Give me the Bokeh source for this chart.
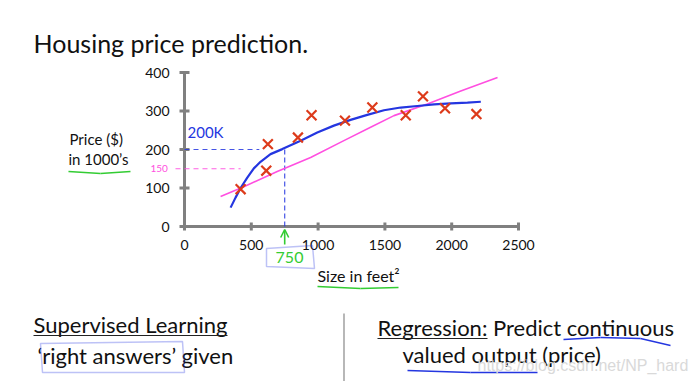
import math
from bokeh.plotting import figure
from bokeh.models import Range1d, Label, Arrow, OpenHead, PolyAnnotation
from bokeh.core.properties import value
from bokeh.embed import file_html
from bokeh.resources import INLINE

# ---- data ----
size_sqft = [420, 624, 612, 849, 951, 1201, 1406, 1656, 1785, 1950, 2185]
price_k = [97, 214, 145, 231, 289, 275, 309, 289, 338, 307, 292]

curve_x = [345, 382, 420, 470, 519, 569, 644, 732, 869, 994, 1118, 1243, 1368, 1493, 1618, 1743, 1868, 1993, 2118, 2218]
curve_y = [49, 75, 100, 127, 151, 168, 188, 201, 223, 244, 262, 277, 290, 302, 309, 313, 317, 320, 322, 324]

line_x = [270, 444, 694, 944, 1193, 1393, 1568, 1818, 2068, 2343]
line_y = [78, 103, 143, 179, 223, 258, 288, 318, 352, 387]

x_ticks = [0, 500, 1000, 1500, 2000, 2500]
y_ticks = [0, 100, 200, 300, 400]
x_tick_labels = ["0", "500", "1000", "1500", "2000", "2500"]
y_tick_labels = ["0", "100", "200", "300", "400"]

query_size = 750
pred_curve = 200
pred_line = 150

TITLE = "Housing price prediction."
FONT = "Lato"

# ---- the whole slide is one frame; the axes box sits inside it ----
W, H = 693, 381
AX_L, AX_R, AX_T, AX_B = 184, 518, 72, 226   # slide pixels of the axes box
XMAX, YMAX = 2500, 400
sx = XMAX / (AX_R - AX_L)
sy = YMAX / (AX_B - AX_T)
p = figure(width=W, height=H,
           x_range=Range1d(-AX_L * sx, XMAX + (W - AX_R) * sx),
           y_range=Range1d(-(H - AX_B) * sy, YMAX + AX_T * sy),
           x_axis_location=None, y_axis_location=None,
           output_backend="svg", toolbar_location=None, min_border=0)
p.outline_line_color = None
p.grid.visible = False
p.background_fill_color = "white"
p.border_fill_color = "white"

def X(px):
    return (px - AX_L) * sx

def Y(py):
    return (AX_B - py) * sy

AX = "#808080"
BLUE = "#2436e0"
PINK = "#ff4fe0"
GREEN = "#33cc33"
RED = "#dd3b1b"
INK = "#111111"

# axes (lines, cross ticks, tick labels) drawn at data positions
p.segment(x0=[0, 0], y0=[0, 0], x1=[XMAX, 0], y1=[0, YMAX], line_color=AX, line_width=3)
p.scatter(x_ticks, [0] * len(x_ticks), marker="dash", angle=math.pi / 2, size=8,
          line_color=AX, line_width=3)
p.scatter([0] * len(y_ticks), y_ticks, marker="dash", size=10, line_color=AX, line_width=3)
p.text(x_ticks, [0] * len(x_ticks), text=x_tick_labels, y_offset=13, text_align="center",
       text_baseline="top", text_font=value(FONT), text_font_size="14px", text_color=INK)
p.text([0] * len(y_ticks), y_ticks, text=y_tick_labels, x_offset=-15, text_align="right",
       text_baseline="middle", text_font=value(FONT), text_font_size="14px", text_color=INK)

def stroke(x0, y0, x1, y1, color, width=1.5, dash="solid", alpha=1.0):
    p.add_layout(Arrow(end=None, x_start=x0, y_start=y0, x_end=x1, y_end=y1,
                       line_color=color, line_width=width, line_dash=dash, line_alpha=alpha))

def polyline(pts, color, width=1.5):
    for (a, b), (c, d) in zip(pts[:-1], pts[1:]):
        stroke(X(a), Y(b), X(c), Y(d), color, width)

# dashed guide lines
p.segment(x0=[0], y0=[pred_curve], x1=[560], y1=[pred_curve], line_color=BLUE,
          line_width=1.2, line_dash="5 4", line_alpha=0.85)
p.segment(x0=[query_size], y0=[0], x1=[query_size], y1=[pred_curve], line_color=BLUE,
          line_width=1.2, line_dash="5 3", line_alpha=0.85)
stroke(X(175), pred_line, 420, pred_line, PINK, 1.2, "5 4", 0.9)

# model curves and data
p.line(line_x, line_y, line_color=PINK, line_width=1.6)
p.line(curve_x, curve_y, line_color=BLUE, line_width=2.2)
p.scatter(size_sqft, price_k, marker="x", size=14, line_width=2.2, line_color=RED)

def label(px, py, text, size, color=INK, align="left", font=FONT):
    # (px, py): slide pixel of the text's left end and baseline
    p.add_layout(Label(x=X(px), y=Y(py - 0.38 * size), text=text, text_font=font,
                       text_font_size=f"{size}px", text_color=color, text_align=align,
                       text_baseline="alphabetic"))

# handwritten annotations
label(187, 137, "200K", 15, BLUE)
label(150, 172, "150", 10, PINK)
p.add_layout(Arrow(end=OpenHead(size=8, line_color=GREEN, line_width=1.6),
                   x_start=query_size, y_start=Y(244), x_end=query_size, y_end=Y(229),
                   line_color=GREEN, line_width=1.6))
label(289, 263, "750", 16, GREEN, align="center")
p.add_layout(PolyAnnotation(xs=[X(266), X(312), X(314), X(266)], ys=[Y(248), Y(245), Y(268), Y(266)],
                            fill_alpha=0, line_color=BLUE, line_width=1.5))

# axis titles
label(69, 144, "Price ($)", 15)
label(68, 164, "in 1000\u2019s", 15)
polyline([(68, 171), (100, 173), (130, 171)], GREEN, 1.6)
label(317, 281, "Size in feet\u00b2", 16)
polyline([(317, 286), (360, 288), (398, 287)], GREEN, 1.6)

# title
label(33, 52, TITLE, 25)

# bottom slide text
label(33, 332, "Supervised Learning", 22)
stroke(X(33), Y(335), X(227), Y(335), "#222222", 1.2)
label(37, 363, "\u2018right answers\u2019 given", 22)
p.add_layout(PolyAnnotation(xs=[X(40), X(182), X(184), X(42)], ys=[Y(343), Y(341), Y(372), Y(372)],
                            fill_alpha=0, line_color=BLUE, line_width=1.5))
stroke(X(343.5), Y(313), X(343.5), Y(381), "#888888", 1.2)
label(377, 335, "Regression: Predict continuous", 22)
stroke(X(377), Y(338), X(487), Y(338), "#222222", 1.2)
label(402, 362, "valued output (price)", 22)
polyline([(563, 339), (600, 337), (640, 338), (670, 345)], BLUE, 1.3)
polyline([(407, 370), (470, 372), (537, 372)], BLUE, 1.3)
label(477, 371, "https://blog.csdn.net/NP_hard", 16, "#d9d9d9", font="Liberation Sans")

open("out.html", "w").write(file_html(p, INLINE))
